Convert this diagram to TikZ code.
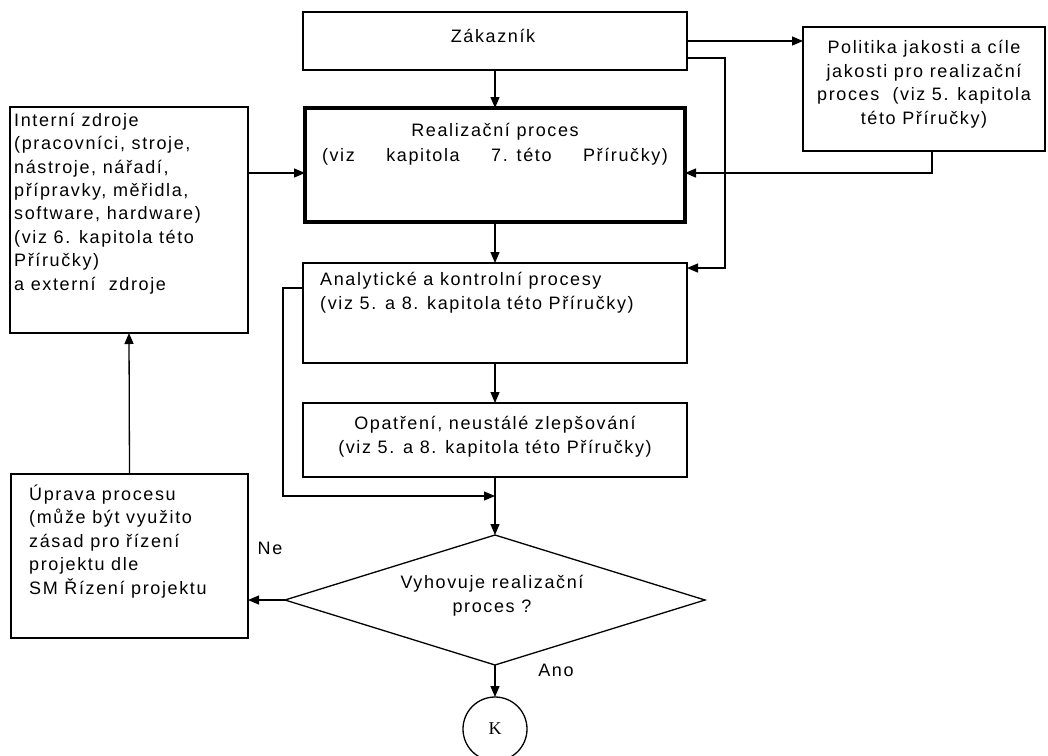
\documentclass[tikz,border=0pt]{standalone}
\usepackage{fontspec}
\setmainfont{Liberation Sans}[LetterSpace=9]
\newfontfamily\kfont{Liberation Serif}
\usetikzlibrary{shapes.geometric,arrows.meta}
\begin{document}
\begin{tikzpicture}[x=1pt,y=-1pt,
  ln/.style={line width=1.3pt},
  box/.style={draw,ln,inner sep=0pt,outer sep=0pt,anchor=north west},
  txt/.style={inner sep=0pt,font=\fontsize{18}{23.4}\selectfont},
  arr/.style={ln,-{Triangle[length=11pt,width=9pt]}}]
\useasboundingbox (0,0) rectangle (1048,755);
% boxes
\node[box,minimum width=384pt,minimum height=58pt] (zak) at (303,12) {};
\node[box,minimum width=242pt,minimum height=124pt] (pol) at (803,27) {};
\node[box,line width=4pt,minimum width=380pt,minimum height=114pt] (real) at (305,108) {};
\node[box,minimum width=238pt,minimum height=226pt] (int) at (10,107) {};
\node[box,minimum width=384pt,minimum height=100pt] (ana) at (303,263) {};
\node[box,minimum width=384pt,minimum height=74pt] (opa) at (303,403) {};
\node[box,minimum width=237pt,minimum height=164pt] (upr) at (11,474) {};
\node[draw,ln,diamond,inner sep=0pt,outer sep=0pt,minimum width=420pt,minimum height=130pt] (dia) at (495,600) {};
\node[draw,ln,circle,inner sep=0pt,outer sep=0pt,minimum size=64pt,font=\kfont\fontsize{18}{20}\selectfont] (k) at (495,729) {K};
% texts (multi-line nodes: base = baseline of last line)
\node[txt,anchor=base] (tzak) at (493,42) {Zákazník};
\node[txt,align=center,anchor=base] (tpol) at (924,124) {Politika jakosti a cíle\\jakosti pro realizační\\proces \ (viz 5. kapitola\\této Příručky)};
\node[txt,anchor=base] (treal1) at (495,136) {Realizační proces};
\node[txt,anchor=base] (treal2) at (495,161) {\hbox to 346pt{(viz\hfill kapitola\hfill 7. této\hfill Příručky)}};
\node[txt,align=left,anchor=base west] (tint) at (14,290) {Interní zdroje\\(pracovníci, stroje,\\nástroje, nářadí,\\přípravky, měřidla,\\software, hardware)\\(viz 6. kapitola této\\Příručky)\\a externí \ zdroje};
\node[txt,align=left,anchor=base west] (tana) at (320,309) {Analytické a kontrolní procesy\\(viz 5. a 8. kapitola této Příručky)};
\node[txt,align=center,anchor=base] (topa) at (495,453) {Opatření, neustálé zlepšování\\(viz 5. a 8. kapitola této Příručky)};
\node[txt,align=left,anchor=base west] (tupr) at (29,594) {Úprava procesu\\(může být využito\\zásad pro řízení\\projektu dle\\SM Řízení projektu};
\node[txt,align=center,anchor=base] (tdia) at (492,612) {Vyhovuje realizační\\proces ?};
\node[txt,anchor=base] (tne) at (270,554) {Ne};
\node[txt,anchor=base] (tano) at (556,676) {Ano};
% helper coordinates
\coordinate (c1) at (725,58);
\coordinate (c2) at (725,268);
\coordinate (c3) at (932,173);
\coordinate (c5) at (283,288);
\coordinate (c6) at (283,496);
% connectors
\draw[arr] (zak.south) -- (zak.south |- real.north);
\draw[arr] (zak.east) -- (zak.east -| pol.west);
\draw[arr] (zak.east |- c1) -- (c1) -- (c2) -- (c2 -| ana.east);
\draw[arr] (pol.south -| c3) -- (c3) -- (c3 -| real.east);
\draw[arr] (int.east |- c3) -- (real.west |- c3);
\draw[arr] (real.south -| ana.north) -- (ana.north);
\draw[arr] (ana.south) -- (opa.north);
\draw[arr] (ana.west |- c5) -- (c5) -- (c6) -- (c6 -| opa.south);
\draw[arr] (opa.south) -- (dia.north);
\draw[arr] (dia.west) -- (dia.west -| upr.east);
\draw[arr] (dia.south) -- (k.north);
\draw[arr] (upr.north) -- (int.south);
\end{tikzpicture}
\end{document}
